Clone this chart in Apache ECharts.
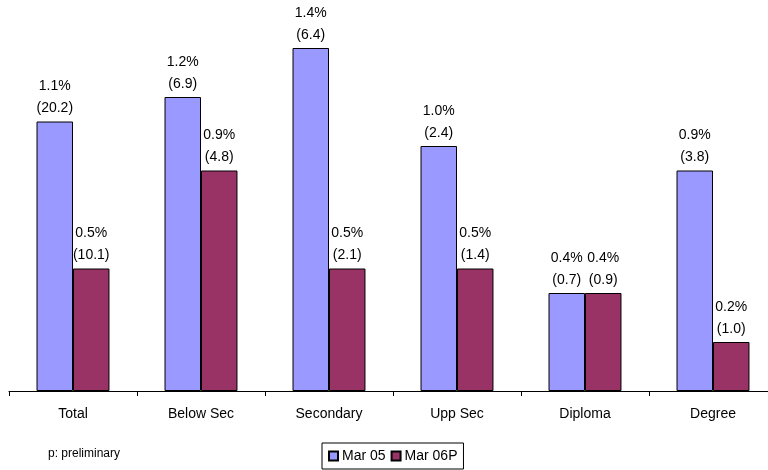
<!DOCTYPE html>
<html>
<head>
<meta charset="utf-8">
<script src="https://cdn.jsdelivr.net/npm/echarts@6/dist/echarts.min.js"></script>
<style>
  html, body { margin: 0; padding: 0; background: #fff; overflow: hidden; }
  #chart { width: 790px; height: 470px; }
</style>
</head>
<body>
<div id="chart"></div>
<script>
// Unemployment rate by education level (%), with counts in thousands
const categories = ['Total', 'Below Sec', 'Secondary', 'Upp Sec', 'Diploma', 'Degree'];
const mar05Rate = [1.1, 1.2, 1.4, 1.0, 0.4, 0.9];
const mar05Count = [20.2, 6.9, 6.4, 2.4, 0.7, 3.8];
const mar06Rate = [0.5, 0.9, 0.5, 0.5, 0.4, 0.2];
const mar06Count = [10.1, 4.8, 2.1, 1.4, 0.9, 1.0];
const seriesNames = ['Mar 05', 'Mar 06P'];

const FONT = 'Liberation Sans, Arial, sans-serif';

function makeLabel(counts) {
  return {
    show: true,
    position: 'top',
    distance: 2,
    fontFamily: FONT,
    fontSize: 14,
    lineHeight: 22,
    color: '#000',
    formatter: p => p.value.toFixed(1) + '%\n(' + counts[p.dataIndex].toFixed(1) + ')'
  };
}

const chart = echarts.init(document.getElementById('chart'), null, { renderer: 'canvas' });
chart.setOption({
  animation: false,
  backgroundColor: '#fff',
  textStyle: { fontFamily: FONT },
  // the plot runs off the right edge of the visible 768px frame
  grid: { left: 9, width: 768, top: 23.5, bottom: 79, containLabel: false },
  legend: {
    left: 322,
    top: 443,
    padding: [6, 6, 6, 6],
    borderColor: '#000',
    borderWidth: 1,
    borderRadius: 0,
    itemWidth: 9,
    itemHeight: 9,
    itemGap: 5,
    icon: 'rect',
    textStyle: { fontFamily: FONT, fontSize: 14, color: '#000', padding: [0, 0, 0, -1] },
    data: seriesNames
  },
  graphic: [{
    type: 'text',
    left: 48,
    top: 448,
    style: { text: 'p: preliminary', font: '12px ' + FONT, fill: '#000' }
  }],
  xAxis: {
    type: 'category',
    data: categories,
    axisLine: { lineStyle: { color: '#000', width: 1 } },
    axisTick: { show: true, length: 5, lineStyle: { color: '#000' } },
    axisLabel: { color: '#000', fontSize: 14, fontFamily: FONT, margin: 16 }
  },
  yAxis: {
    type: 'value',
    min: 0,
    max: 1.5,
    show: false,
    splitLine: { show: false }
  },
  series: [
    {
      name: seriesNames[0],
      type: 'bar',
      data: mar05Rate,
      barGap: '0%',
      barCategoryGap: '43%',
      itemStyle: { color: '#9999FF', borderColor: '#000', borderWidth: 1 },
      label: makeLabel(mar05Count)
    },
    {
      name: seriesNames[1],
      type: 'bar',
      data: mar06Rate,
      barGap: '0%',
      barCategoryGap: '43%',
      itemStyle: { color: '#993366', borderColor: '#000', borderWidth: 1 },
      label: makeLabel(mar06Count)
    }
  ]
});
</script>
</body>
</html>
